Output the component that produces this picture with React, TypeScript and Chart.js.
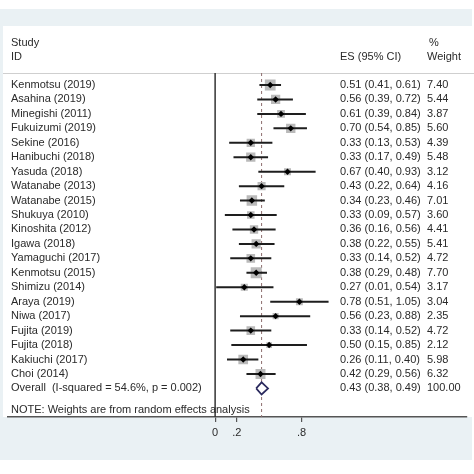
import React, { useEffect, useRef } from "react";
import { Chart, registerables } from "chart.js";

Chart.register(...registerables);

const STUDIES = [
  "Kenmotsu (2019)", "Asahina (2019)", "Minegishi (2011)", "Fukuizumi (2019)",
  "Sekine (2016)", "Hanibuchi (2018)", "Yasuda (2018)", "Watanabe (2013)",
  "Watanabe (2015)", "Shukuya (2010)", "Kinoshita (2012)", "Igawa (2018)",
  "Yamaguchi (2017)", "Kenmotsu (2015)", "Shimizu (2014)", "Araya (2019)",
  "Niwa (2017)", "Fujita (2019)", "Fujita (2018)", "Kakiuchi (2017)", "Choi (2014)",
];
const ES = [0.51, 0.56, 0.61, 0.70, 0.33, 0.33, 0.67, 0.43, 0.34, 0.33, 0.36, 0.38, 0.33, 0.38, 0.27, 0.78, 0.56, 0.33, 0.50, 0.26, 0.42];
const LO = [0.41, 0.39, 0.39, 0.54, 0.13, 0.17, 0.40, 0.22, 0.23, 0.09, 0.16, 0.22, 0.14, 0.29, 0.01, 0.51, 0.23, 0.14, 0.15, 0.11, 0.29];
const HI = [0.61, 0.72, 0.84, 0.85, 0.53, 0.49, 0.93, 0.64, 0.46, 0.57, 0.56, 0.55, 0.52, 0.48, 0.54, 1.05, 0.88, 0.52, 0.85, 0.40, 0.56];
const WEIGHTS = [7.40, 5.44, 3.87, 5.60, 4.39, 5.48, 3.12, 4.16, 7.01, 3.60, 4.41, 5.41, 4.72, 7.70, 3.17, 3.04, 2.35, 4.72, 2.12, 5.98, 6.32];

const OVERALL_LABEL = "Overall  (I-squared = 54.6%, p = 0.002)";
const OVERALL_ES = 0.43;
const OVERALL_LO = 0.38;
const OVERALL_HI = 0.49;
const OVERALL_WEIGHT = 100.0;

const TICK_VALUES = [0, 0.2, 0.8];
const TICK_LABELS = ["0", ".2", ".8"];

const NOTE = "NOTE: Weights are from random effects analysis";

const FONT = '11px "Liberation Sans", Arial, sans-serif';
const TEXT_COLOR = "#2a2a2a";

const Y_MIN = -0.83;
const Y_MAX = 22.98;

const forestPlugin = {
  id: "forestDecor",
  beforeDraw(chart: any) {
    const ctx = chart.ctx;
    ctx.save();
    ctx.fillStyle = "#ffffff";
    ctx.fillRect(0, 0, chart.width, chart.height);
    ctx.fillStyle = "#eaf1f4";
    ctx.fillRect(0, 9, 472, 451);
    ctx.fillStyle = "#ffffff";
    ctx.fillRect(3, 26, 471, 391);
    ctx.strokeStyle = "#cfcfcf";
    ctx.lineWidth = 1;
    ctx.beginPath();
    ctx.moveTo(3, 73.5);
    ctx.lineTo(474, 73.5);
    ctx.stroke();
    ctx.restore();
  },
  afterDraw(chart: any) {
    const ctx = chart.ctx;
    const y = chart.scales.y;
    ctx.save();
    ctx.font = FONT;
    ctx.fillStyle = TEXT_COLOR;
    ctx.textBaseline = "middle";
    ctx.textAlign = "left";
    ctx.fillText("Study", 11, 43);
    ctx.fillText("ID", 11, 57);
    ctx.fillText("ES (95% CI)", 340, 57);
    ctx.fillText("%", 429, 43);
    ctx.fillText("Weight", 427, 57);
    STUDIES.forEach((s, i) => {
      const py = y.getPixelForValue(i);
      ctx.fillText(s, 11, py);
      ctx.fillText(`${ES[i].toFixed(2)} (${LO[i].toFixed(2)}, ${HI[i].toFixed(2)})`, 340, py);
      ctx.fillText(WEIGHTS[i].toFixed(2), 427, py);
    });
    const oy = y.getPixelForValue(STUDIES.length);
    ctx.fillText(OVERALL_LABEL, 11, oy);
    ctx.fillText(`${OVERALL_ES.toFixed(2)} (${OVERALL_LO.toFixed(2)}, ${OVERALL_HI.toFixed(2)})`, 340, oy);
    ctx.fillText(OVERALL_WEIGHT.toFixed(2), 427, oy);
    ctx.fillText(NOTE, 11, y.getPixelForValue(STUDIES.length + 1.5));
    ctx.restore();
  },
};

export default function App() {
  const ref = useRef<HTMLCanvasElement>(null);
  useEffect(() => {
    if (!ref.current) return;
    const n = STUDIES.length;
    const ciSets = STUDIES.map((_, i) => ({
      type: "scatter",
      data: [{ x: LO[i], y: i }, { x: HI[i], y: i }],
      showLine: true,
      borderColor: "#1e1e1e",
      borderWidth: 2,
      pointRadius: 0,
      order: 1,
    }));
    const chart = new Chart(ref.current, {
      type: "scatter",
      data: {
        datasets: [
          {
            data: ES.map((v, i) => ({ x: v, y: i })),
            pointStyle: "rectRot",
            pointRadius: 3.2,
            backgroundColor: "#000000",
            borderWidth: 0,
            order: 0,
          },
          {
            data: [
              { x: OVERALL_LO, y: n },
              { x: OVERALL_ES, y: n - 0.42 },
              { x: OVERALL_HI, y: n },
              { x: OVERALL_ES, y: n + 0.42 },
              { x: OVERALL_LO, y: n },
            ],
            showLine: true,
            fill: "shape",
            backgroundColor: "#ffffff",
            borderColor: "#2b2a5e",
            borderWidth: 1.7,
            pointRadius: 0,
            order: 0,
          },
          ...ciSets,
          {
            data: ES.map((v, i) => ({ x: v, y: i })),
            pointStyle: "rect",
            pointRadius: (c: any) => 2.8 * Math.sqrt(WEIGHTS[c.dataIndex]),
            backgroundColor: "#bababa",
            borderWidth: 0,
            order: 2,
          },
          {
            data: [{ x: OVERALL_ES, y: Y_MIN }, { x: OVERALL_ES, y: Y_MAX }],
            showLine: true,
            borderColor: "#8e6e6e",
            borderWidth: 1,
            borderDash: [3, 3],
            pointRadius: 0,
            order: 3,
          },
          {
            data: [{ x: 0, y: Y_MIN }, { x: 0, y: Y_MAX }],
            showLine: true,
            borderColor: "#333333",
            borderWidth: 1.5,
            pointRadius: 0,
            order: 3,
          },
        ] as any,
      },
      options: {
        animation: false,
        responsive: false,
        devicePixelRatio: 1,
        events: [],
        layout: { padding: { left: 3, right: 0, top: 73, bottom: 17 } },
        plugins: { legend: { display: false }, tooltip: { enabled: false } },
        scales: {
          x: {
            type: "linear",
            min: -1.919,
            max: 2.324,
            afterBuildTicks: (s: any) => {
              s.ticks = TICK_VALUES.map((v) => ({ value: v }));
            },
            afterFit: (s: any) => {
              s.height = 40;
            },
            ticks: {
              callback: (v: any) => {
                const idx = TICK_VALUES.findIndex((t) => Math.abs(t - v) < 1e-9);
                return idx >= 0 ? TICK_LABELS[idx] : "";
              },
              font: { family: '"Liberation Sans", Arial, sans-serif', size: 11 },
              color: TEXT_COLOR,
              padding: 4,
              maxRotation: 0,
              autoSkip: false,
            },
            grid: {
              drawOnChartArea: false,
              drawTicks: true,
              tickLength: 5,
              color: "#555555",
              lineWidth: 1.2,
            },
            border: { display: true, color: "#555555", width: 1.5 },
          },
          y: {
            type: "linear",
            display: false,
            reverse: true,
            min: Y_MIN,
            max: Y_MAX,
          },
        },
      } as any,
      plugins: [forestPlugin],
    });
    return () => chart.destroy();
  }, []);
  return (
    <div style={{ position: "absolute", left: 0, top: 0, width: 474, height: 474 }}>
      <canvas ref={ref} width={474} height={474} />
    </div>
  );
}
